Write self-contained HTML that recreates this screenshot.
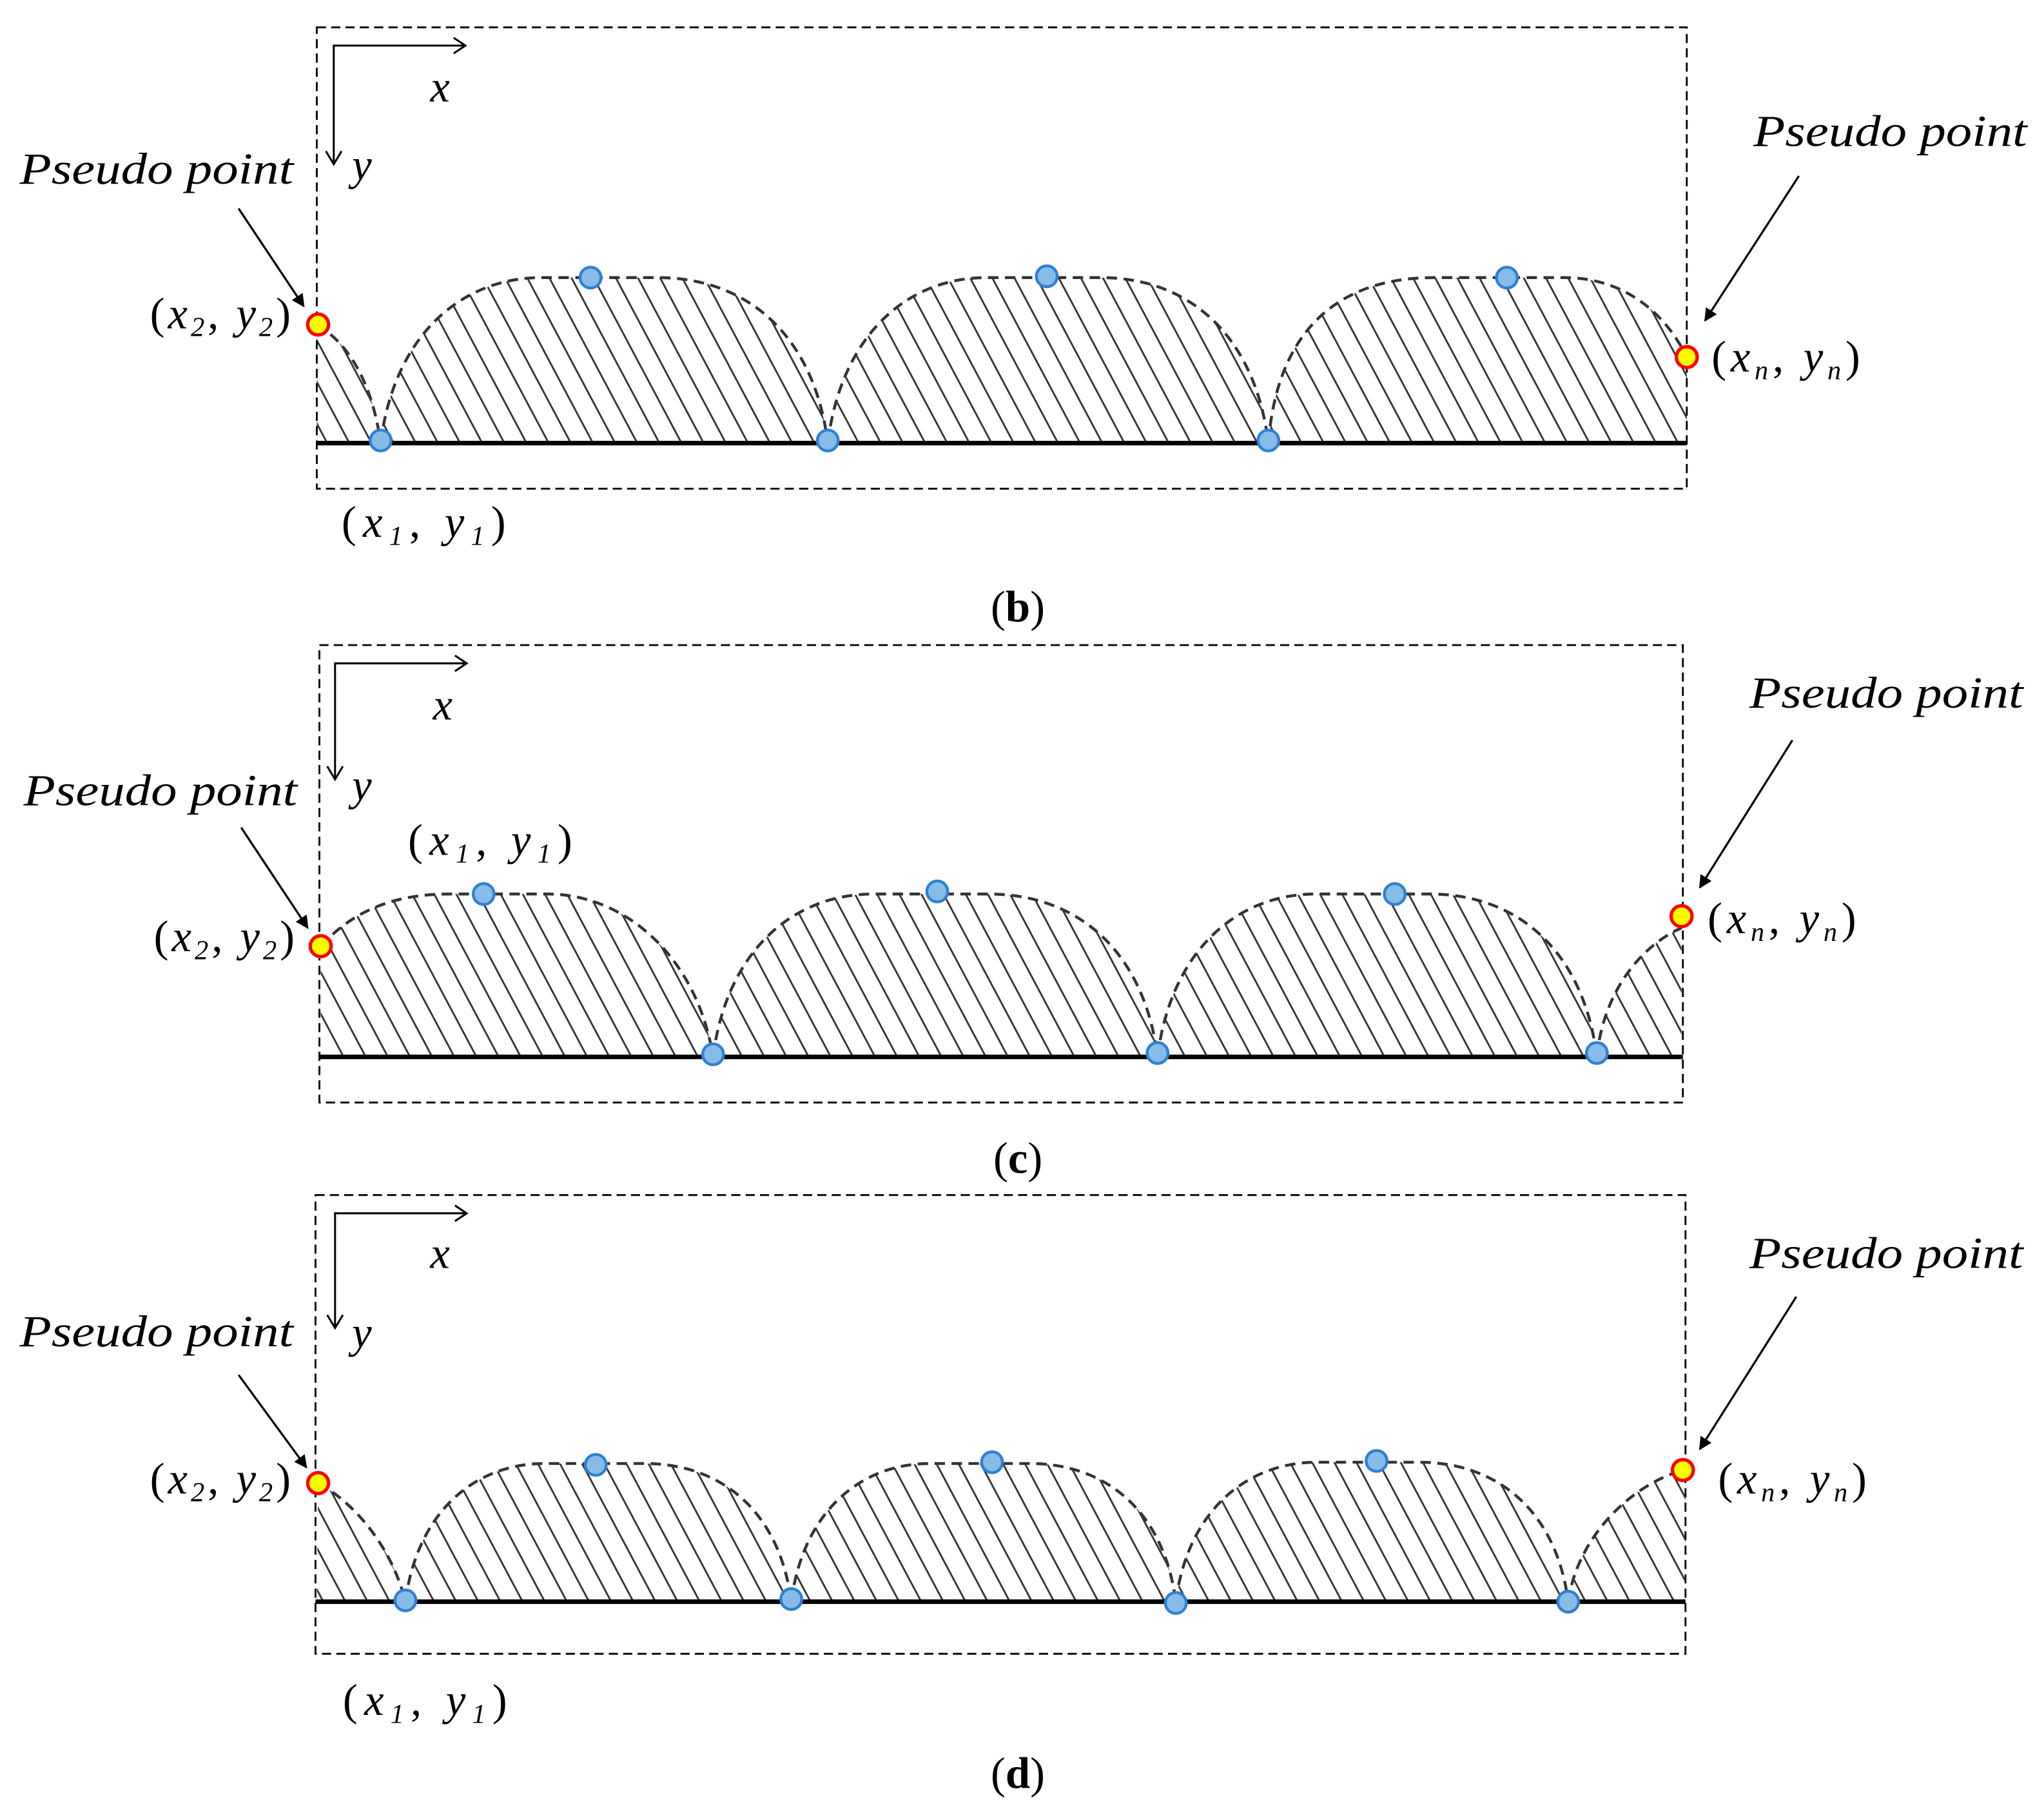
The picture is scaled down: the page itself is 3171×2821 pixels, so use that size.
<!DOCTYPE html>
<html><head><meta charset="utf-8"><style>
html,body{margin:0;padding:0;background:#fff}
svg{display:block}
text{font-family:"Liberation Serif","Times New Roman",serif;fill:#000}
.it{font-style:italic}
</style></head><body>
<svg width="3171" height="2821" viewBox="0 0 1568 1395" xmlns="http://www.w3.org/2000/svg">
<defs>
<pattern id="h" patternUnits="userSpaceOnUse" width="15" height="40" patternTransform="rotate(-28)">
<line x1="2" y1="-5" x2="2" y2="45" stroke="#333" stroke-width="1.4"/>
</pattern>
<marker id="a" markerWidth="10" markerHeight="10" refX="9" refY="5" orient="auto" markerUnits="userSpaceOnUse"><path d="M0,0 L10,5 L0,10 z" fill="#000"/></marker>
</defs>
<g id="g"></g>
<g font-size="34" font-family="Liberation Serif, serif">
<!-- panel b -->
<text x="15" y="141" class="it" textLength="210" lengthAdjust="spacingAndGlyphs">Pseudo point</text>
<text x="1345" y="112" class="it" textLength="210" lengthAdjust="spacingAndGlyphs">Pseudo point</text>
<text x="115" y="252" font-size="34" textLength="108" lengthAdjust="spacing">(<tspan class="it">x</tspan><tspan font-size="21" dy="6" class="it">2</tspan><tspan dy="-6">, </tspan><tspan class="it">y</tspan><tspan font-size="21" dy="6" class="it">2</tspan><tspan dy="-6">)</tspan></text>
<text x="1313" y="285" font-size="34" textLength="114" lengthAdjust="spacing">(<tspan class="it">x</tspan><tspan font-size="21" dy="6" class="it">n</tspan><tspan dy="-6">, </tspan><tspan class="it">y</tspan><tspan font-size="21" dy="6" class="it">n</tspan><tspan dy="-6">)</tspan></text>
<text x="262" y="412" font-size="34" textLength="126" lengthAdjust="spacing">(<tspan class="it">x</tspan><tspan font-size="21" dy="6" class="it">1</tspan><tspan dy="-6">,   </tspan><tspan class="it">y</tspan><tspan font-size="21" dy="6" class="it">1</tspan><tspan dy="-6">)</tspan></text>
<text x="330" y="78" class="it">x</text>
<text x="270" y="138" class="it">y</text>
<text x="760" y="477" font-size="34">(<tspan font-weight="bold">b</tspan>)</text>
<!-- panel c -->
<text x="18" y="618" class="it" textLength="210" lengthAdjust="spacingAndGlyphs">Pseudo point</text>
<text x="1342" y="543" class="it" textLength="210" lengthAdjust="spacingAndGlyphs">Pseudo point</text>
<text x="118" y="730" font-size="34" textLength="108" lengthAdjust="spacing">(<tspan class="it">x</tspan><tspan font-size="21" dy="6" class="it">2</tspan><tspan dy="-6">, </tspan><tspan class="it">y</tspan><tspan font-size="21" dy="6" class="it">2</tspan><tspan dy="-6">)</tspan></text>
<text x="1310" y="716" font-size="34" textLength="114" lengthAdjust="spacing">(<tspan class="it">x</tspan><tspan font-size="21" dy="6" class="it">n</tspan><tspan dy="-6">, </tspan><tspan class="it">y</tspan><tspan font-size="21" dy="6" class="it">n</tspan><tspan dy="-6">)</tspan></text>
<text x="313" y="656" font-size="34" textLength="126" lengthAdjust="spacing">(<tspan class="it">x</tspan><tspan font-size="21" dy="6" class="it">1</tspan><tspan dy="-6">,   </tspan><tspan class="it">y</tspan><tspan font-size="21" dy="6" class="it">1</tspan><tspan dy="-6">)</tspan></text>
<text x="332" y="552" class="it">x</text>
<text x="270" y="614" class="it">y</text>
<text x="762" y="900" font-size="34">(<tspan font-weight="bold">c</tspan>)</text>
<!-- panel d -->
<text x="15" y="1033" class="it" textLength="210" lengthAdjust="spacingAndGlyphs">Pseudo point</text>
<text x="1342" y="973" class="it" textLength="210" lengthAdjust="spacingAndGlyphs">Pseudo point</text>
<text x="115" y="1146" font-size="34" textLength="108" lengthAdjust="spacing">(<tspan class="it">x</tspan><tspan font-size="21" dy="6" class="it">2</tspan><tspan dy="-6">, </tspan><tspan class="it">y</tspan><tspan font-size="21" dy="6" class="it">2</tspan><tspan dy="-6">)</tspan></text>
<text x="1318" y="1146" font-size="34" textLength="114" lengthAdjust="spacing">(<tspan class="it">x</tspan><tspan font-size="21" dy="6" class="it">n</tspan><tspan dy="-6">, </tspan><tspan class="it">y</tspan><tspan font-size="21" dy="6" class="it">n</tspan><tspan dy="-6">)</tspan></text>
<text x="263" y="1316" font-size="34" textLength="126" lengthAdjust="spacing">(<tspan class="it">x</tspan><tspan font-size="21" dy="6" class="it">1</tspan><tspan dy="-6">,   </tspan><tspan class="it">y</tspan><tspan font-size="21" dy="6" class="it">1</tspan><tspan dy="-6">)</tspan></text>
<text x="330" y="973" class="it">x</text>
<text x="270" y="1034" class="it">y</text>
<text x="760" y="1372" font-size="34">(<tspan font-weight="bold">d</tspan>)</text>
</g>
</svg>
<script>
var g=document.getElementById('g');var s='';
function box(x0,y0,x1,y1){s+='<rect x="'+x0+'" y="'+y0+'" width="'+(x1-x0)+'" height="'+(y1-y0)+'" fill="none" stroke="#000" stroke-width="1.4" stroke-dasharray="7,4"/>';}
function axes(cx,cy,ty){s+='<path d="M'+(cx+100)+','+cy+' L'+cx+','+cy+' L'+cx+','+ty+'" fill="none" stroke="#000" stroke-width="1.5"/>';
s+='<path d="M'+(cx+92)+','+(cy-6)+' L'+(cx+101)+','+cy+' L'+(cx+92)+','+(cy+6)+' M'+(cx-6)+','+(ty-9)+' L'+cx+','+(ty+1)+' L'+(cx+6)+','+(ty-9)+'" fill="none" stroke="#000" stroke-width="1.5"/>';}
function hump(x0,x1,yb,yt){var w=x1-x0,h=yb-yt;return 'M'+x0+','+yb+' C'+(x0+0.03*w)+','+(yt+0.35*h)+' '+(x0+0.18*w)+','+yt+' '+(x0+0.36*w)+','+yt+' L'+(x0+0.62*w)+','+yt+' C'+(x0+0.82*w)+','+yt+' '+(x1-0.03*w)+','+(yt+0.35*h)+' '+x1+','+yb;}
function shape(d,close){s+='<path d="'+d+' '+close+'" fill="url(#h)" stroke="none"/>';s+='<path d="'+d+'" fill="none" stroke="#333" stroke-width="2.2" stroke-dasharray="8,5"/>';}
function base(x0,x1,y){s+='<line x1="'+x0+'" y1="'+y+'" x2="'+x1+'" y2="'+y+'" stroke="#000" stroke-width="3.5"/>';}
function bd(x,y){s+='<ellipse cx="'+x+'" cy="'+y+'" rx="8" ry="8" fill="#86bde8" stroke="#2f80d0" stroke-width="2.2"/>';}
function yd(x,y){s+='<ellipse cx="'+x+'" cy="'+y+'" rx="8" ry="8" fill="#ffff00" stroke="#ff0000" stroke-width="2.6"/>';}
function arr(x1,y1,x2,y2){s+='<line x1="'+x1+'" y1="'+y1+'" x2="'+x2+'" y2="'+y2+'" stroke="#000" stroke-width="1.6" marker-end="url(#a)"/>';}
box(243,21,1294,375);axes(256,35,125);
shape('M243,249 C265,262 285,290 292,340','L243,340 Z');
shape(hump(292,635,340,213),'Z');shape(hump(635,973,340,213),'Z');
shape('M973,340 C980,250 1030,213 1100,213 L1200,213 C1250,213 1280,245 1294,274','L1294,340 Z');
base(243,1294,340);
bd(292,338);bd(635,338);bd(973,338);bd(453,213);bd(803,212);bd(1156,213);yd(244,249);yd(1294,274);
arr(183,160,233,235);arr(1380,135,1308,246);
box(245,495,1291,846);axes(257,509,597);
shape('M246,726 C270,700 300,686 345,686 L420,686 C480,686 535,735 547,811','L246,811 Z');
shape(hump(547,888,811,686),'Z');shape(hump(888,1225,811,686),'Z');
shape('M1225,811 C1230,760 1260,725 1290,712','L1290,811 Z');
base(245,1291,811);
bd(547,809);bd(888,808);bd(1225,808);bd(371,686);bd(719,684);bd(1070,686);yd(246,726);yd(1290,703);
arr(185,635,236,712);arr(1375,568,1304,681);
box(242,917,1293,1269);axes(257,931,1018);
shape('M244,1138 C270,1152 300,1185 311,1229','L243,1229 Z');
shape(hump(311,607,1229,1123),'Z');shape(hump(607,902,1229,1123),'Z');shape(hump(902,1203,1229,1122),'Z');
shape('M1203,1229 C1210,1180 1250,1140 1291,1128','L1293,1129 L1293,1229 Z');
base(242,1293,1229);
bd(311,1228);bd(607,1227);bd(902,1230);bd(1203,1229);bd(457,1124);bd(761,1122);bd(1056,1121);yd(244,1138);yd(1291,1128);
arr(183,1055,235,1126);arr(1378,995,1304,1112);
g.innerHTML=s;
</script>
</body></html>
